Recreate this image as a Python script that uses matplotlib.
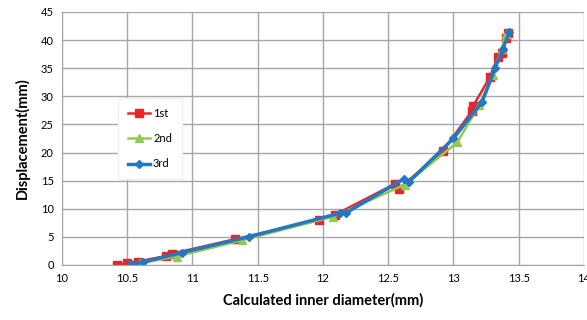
import matplotlib
matplotlib.use("Agg")
import matplotlib.pyplot as plt

plt.rcParams['font.family'] = ['Lato', 'DejaVu Sans']

x1 = [10.42, 10.50, 10.58, 10.80, 10.84, 11.33, 11.97, 12.09, 12.55, 12.58, 12.92, 13.14, 13.15, 13.28, 13.34, 13.37, 13.40, 13.42]
y1 = [0.0, 0.35, 0.6, 1.6, 2.0, 4.6, 8.0, 8.9, 14.4, 13.5, 20.3, 27.3, 28.2, 33.4, 37.0, 37.7, 40.3, 41.3]

x2 = [10.52, 10.60, 10.88, 11.38, 12.08, 12.63, 13.03, 13.20, 13.30, 13.37, 13.40]
y2 = [0.0, 0.3, 1.5, 4.4, 8.6, 14.3, 21.8, 28.5, 33.8, 38.5, 41.0]

x3 = [10.53, 10.62, 10.92, 11.43, 12.13, 12.18, 12.62, 12.66, 13.00, 13.22, 13.32, 13.38, 13.43]
y3 = [0.1, 0.5, 2.2, 5.0, 9.2, 9.3, 15.3, 14.8, 22.5, 29.0, 35.0, 38.5, 41.5]

labels = ['1st', '2nd', '3rd']

fig = plt.figure(figsize=(5.87, 3.2), dpi=100)
ax = fig.add_axes([0.1056, 0.172, 0.889, 0.7905])

ax.plot(x1, y1, color='#E8262A', marker='s', markersize=6, linewidth=1.8, label=labels[0])
ax.plot(x2, y2, color='#92C954', marker='^', markersize=6, linewidth=1.8, label=labels[1])
ax.plot(x3, y3, color='#2478C2', marker='D', markersize=4, linewidth=2.5, label=labels[2])

ax.set_xlim(10, 14)
ax.set_ylim(0, 45)
ax.set_xticks([10, 10.5, 11, 11.5, 12, 12.5, 13, 13.5, 14])
ax.set_xticklabels(['10', '10.5', '11', '11.5', '12', '12.5', '13', '13.5', '14'])
ax.set_yticks(range(0, 46, 5))
ax.grid(True, color='#A6A6A6', linewidth=1)
ax.set_axisbelow(True)
for s in ['top', 'right']:
    ax.spines[s].set_visible(False)
for s in ['left', 'bottom']:
    ax.spines[s].set_color('#A6A6A6')
ax.tick_params(axis='both', length=0, labelsize=8, pad=6)
ax.set_xlabel('Calculated inner diameter(mm)', fontsize=10.5, fontweight='bold', labelpad=6)
ax.set_ylabel('Displacement(mm)', fontsize=10.5, fontweight='bold', labelpad=8)

leg = ax.legend(loc='center left', bbox_to_anchor=(0.1, 0.5), fontsize=8, frameon=True,
                fancybox=False, edgecolor='#F0F0F0', framealpha=1, labelspacing=1.3,
                handlelength=2.0, handletextpad=0.3, borderpad=0.9, borderaxespad=0.3)

fig.savefig('out.png', dpi=100)
